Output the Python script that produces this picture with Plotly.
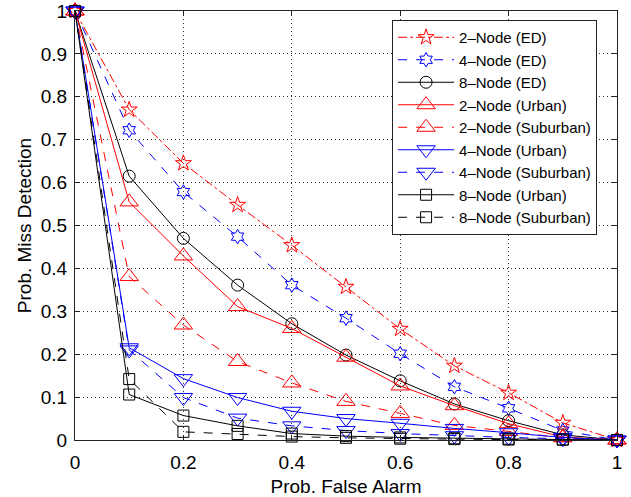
import plotly.graph_objects as go

pfa = [0, 0.1, 0.2, 0.3, 0.4, 0.5, 0.6, 0.7, 0.8, 0.9, 1.0]

node2_ed = [1, 0.770, 0.645, 0.548, 0.454, 0.357, 0.259, 0.173, 0.110, 0.040, 0]
node4_ed = [1, 0.722, 0.578, 0.474, 0.361, 0.284, 0.201, 0.124, 0.074, 0.022, 0]
node8_ed = [1, 0.615, 0.470, 0.361, 0.271, 0.198, 0.138, 0.084, 0.045, 0.012, 0]
node2_urban = [1, 0.555, 0.429, 0.311, 0.260, 0.193, 0.126, 0.080, 0.038, 0.007, 0]
node2_suburban = [1, 0.381, 0.268, 0.183, 0.133, 0.090, 0.062, 0.034, 0.020, 0.005, 0]
node4_urban = [1, 0.215, 0.143, 0.099, 0.067, 0.050, 0.039, 0.027, 0.017, 0.006, 0]
node4_suburban = [1, 0.210, 0.099, 0.051, 0.033, 0.022, 0.015, 0.010, 0.006, 0.003, 0]
node8_urban = [1, 0.106, 0.057, 0.033, 0.015, 0.009, 0.006, 0.004, 0.003, 0.001, 0]
node8_suburban = [1, 0.142, 0.019, 0.014, 0.008, 0.005, 0.003, 0.002, 0.001, 0.001, 0]

series = [
    ("2\u2013Node (ED)", node2_ed, "red", "dashdot", "star-open", 12),
    ("4\u2013Node (ED)", node4_ed, "blue", "dash", "hexagram-open", 11),
    ("8\u2013Node (ED)", node8_ed, "black", "solid", "circle-open", 12),
    ("2\u2013Node (Urban)", node2_urban, "red", "solid", "triangle-up-open", 16),
    ("2\u2013Node (Suburban)", node2_suburban, "red", "dash", "triangle-up-open", 16),
    ("4\u2013Node (Urban)", node4_urban, "blue", "solid", "triangle-down-open", 16),
    ("4\u2013Node (Suburban)", node4_suburban, "blue", "dash", "triangle-down-open", 16),
    ("8\u2013Node (Urban)", node8_urban, "black", "solid", "square-open", 11),
    ("8\u2013Node (Suburban)", node8_suburban, "black", "dash", "square-open", 11),
]

FONT = "Liberation Sans, Arial, Helvetica"

fig = go.Figure()
for name, ys, color, dash, sym, size in series:
    fig.add_trace(go.Scatter(
        x=pfa, y=ys, name=name, mode="lines+markers",
        line=dict(color=color, dash=dash, width=1),
        marker=dict(symbol=sym, size=size, color=color, line=dict(width=1, color=color)),
        cliponaxis=False,
    ))

axis_common = dict(
    showgrid=True, griddash="1px,3px", gridcolor="#333", gridwidth=1,
    showline=True, linecolor="#222", linewidth=1, mirror="ticks",
    ticks="inside", ticklen=5, tickcolor="#222", zeroline=False,
    tickfont=dict(family=FONT, size=19, color="black"),
    automargin=False, ticklabeloverflow="allow",
)

fig.update_xaxes(range=[0, 1], dtick=0.2, tick0=0, ticklabelstandoff=5,
                 title=dict(text="Prob. False Alarm", font=dict(family=FONT, size=19, color="black"), standoff=7),
                 **axis_common)
fig.update_yaxes(range=[0, 1], dtick=0.1, tick0=0, ticklabelstandoff=3,
                 title=dict(text="Prob. Miss Detection", font=dict(family=FONT, size=19, color="black"), standoff=4),
                 **axis_common)

fig.update_layout(
    width=631, height=497,
    margin=dict(l=75, r=14, t=11, b=57),
    paper_bgcolor="white", plot_bgcolor="white",
    showlegend=True,
    legend=dict(x=0.585, y=0.979, xanchor="left", yanchor="top",
                bordercolor="#222", borderwidth=1, bgcolor="white",
                font=dict(family=FONT, size=15, color="black"),
                tracegroupgap=0, itemwidth=56),
)

fig.write_html("out.html", config={"displayModeBar": False},
               post_script="document.body.style.margin='0px';document.body.style.overflow='hidden';")
